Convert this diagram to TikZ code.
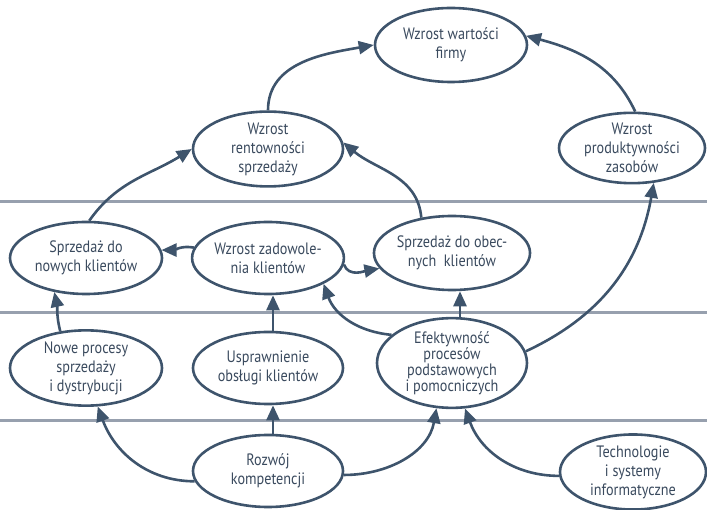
\documentclass[tikz,border=0pt]{standalone}
\usepackage{fontspec}
\setmainfont{PT Sans}[FakeStretch=0.86]
\usetikzlibrary{arrows.meta,shapes.geometric}
\definecolor{ink}{HTML}{3E546C}
\definecolor{txt}{HTML}{3A4A5E}
\definecolor{rule}{HTML}{97A0AE}
\begin{document}
\begin{tikzpicture}[x=1pt,y=1pt,
  goal/.style={ellipse, draw=ink, line width=2.6pt, fill=white, inner sep=0pt,
    align=center, text=txt, font=\fontsize{16.5}{19}\selectfont,
    minimum width=150pt, minimum height=72pt},
  tight/.style={font=\fontsize{16.5}{14}\selectfont},
  link/.style={draw=ink, line width=2.6pt, -{Triangle[length=15pt,width=13pt]}},
  band/.style={draw=rule, line width=3pt}]
\useasboundingbox (0,0) rectangle (707,-510);

% horizontal bands separating the levels
\coordinate (l1a) at (0,-202);   \coordinate (l1b) at (707,-202);
\coordinate (l2a) at (0,-313);   \coordinate (l2b) at (707,-313);
\coordinate (l3a) at (0,-421);   \coordinate (l3b) at (707,-421);
\draw[band] (l1a) -- (l1b);
\draw[band] (l2a) -- (l2b);
\draw[band] (l3a) -- (l3b);

% nodes
\node[goal, minimum width=152pt, minimum height=74pt] (A) at (451,-45)  {Wzrost wartości\\firmy};
\node[goal] (B) at (268,-149) {Wzrost\\rentowności\\sprzedaży};
\node[goal, minimum width=146pt, minimum height=70pt] (C) at (632,-148) {Wzrost\\produktywności\\zasobów};
\node[goal, minimum width=152pt] (D) at (86,-258)  {Sprzedaż do\\nowych klientów};
\node[goal] (E) at (268,-258) {Wzrost zadowole-\\nia klientów};
\node[goal, minimum height=74pt] (F) at (452,-253) {Sprzedaż do obec-\\nych\ \ klientów};
\node[goal, minimum width=152pt] (G) at (86,-368) {Nowe procesy\\sprzedaży\\i dystrybucji};
\node[goal] (H) at (268,-368) {Usprawnienie\\obsługi klientów};
\node[goal, tight] (I) at (452,-363) {Efektywność\\procesów\\podstawowych\\i pomocniczych};
\node[goal] (J) at (268,-471) {Rozwój\\kompetencji};
\node[goal, minimum width=146pt] (K) at (633,-472) {Technologie\\i systemy\\informatyczne};

% connectors
\draw[link] (B.north) to[out=90,in=190] (A.west);
\draw[link] (C.85) to[out=115,in=-15] (A.7);
\draw[link] (D.85) to[out=55,in=212] (B.west);
\draw[link] (F.131) to[out=95,in=-40] (B.5);
\draw[link] (E.172) to[out=170,in=0] (D.6);
\draw[link] (E.-5) to[out=-70,in=190] (F.192);
\draw[link] (G.125) to[out=105,in=-78] (D.-133);
\draw[link] ([xshift=5pt]H.north) -- ([xshift=5pt]E.south);
\draw[link] (I.155) to[out=175,in=-70] (E.-25);
\draw[link] ([xshift=8pt]I.north) -- ([xshift=8pt]F.south);
\draw[link] (I.9) to[out=25,in=-100] (C.-58);
\draw[link] (J.188) to[out=180,in=-70] (G.-73);
\draw[link] ([xshift=5pt]J.north) -- ([xshift=5pt]H.south);
\draw[link] (J.-3) to[out=0,in=-100] (I.-109);
\draw[link] (K.183) to[out=180,in=-70] (I.-74);
\end{tikzpicture}
\end{document}
